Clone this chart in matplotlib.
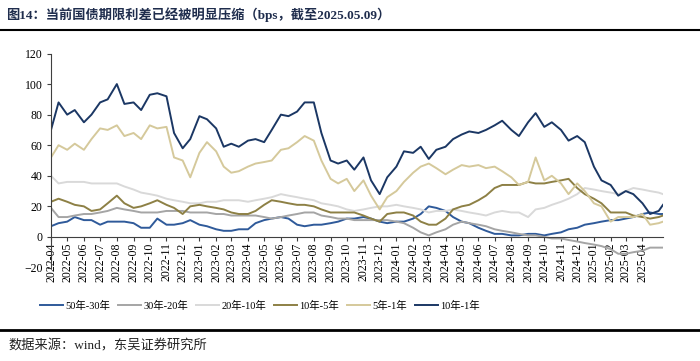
import matplotlib
matplotlib.use("Agg")
import matplotlib.pyplot as plt
import matplotlib.dates as mdates
import pandas as pd

plt.rcParams["font.family"] = ["Liberation Serif", "Noto Sans CJK SC"]

# 半月采样日期（2022-04 至 2025-05-09）
months = pd.date_range("2022-04-01", "2025-05-01", freq="MS")
dates = sorted(list(months) + list(months + pd.Timedelta(days=14)))
dates = [d for d in dates if d <= pd.Timestamp("2025-05-01")] + [pd.Timestamp("2025-05-09")]

# 期限利差（bps），读图估计
s50_30 = [7, 9, 10, 13, 11, 11, 8, 10, 10, 10, 9, 6, 6, 12, 8, 8, 9, 11, 8, 7,
          5, 4, 4, 5, 5, 9, 11, 12, 13, 12, 8, 7, 8, 8, 9, 10, 12, 12, 13, 12,
          10, 9, 10, 10, 12, 15, 20, 19, 17, 13, 10, 9, 6, 4, 2, 2, 1, 1, 2, 2,
          1, 2, 3, 5, 6, 8, 9, 10, 11, 11, 12, 13, 15, 16, 15, 15]
s30_20 = [19, 13, 13, 14, 15, 15, 16, 17, 19, 18, 17, 16, 16, 16, 17, 17, 17, 16, 16, 16,
          15, 15, 14, 14, 14, 14, 13, 12, 13, 14, 15, 16, 16, 14, 13, 12, 12, 11, 11, 11,
          11, 11, 10, 9, 6, 3, 1, 3, 5, 8, 10, 9, 8, 7, 5, 4, 3, 2, 1, 1,
          0, -1, -1, -2, -3, -4, -5, -6, -8, -11, -11, -10, -9, -7, -7, -7]
s20_10 = [40, 35, 36, 36, 36, 35, 35, 35, 35, 33, 31, 29, 28, 27, 25, 24, 23, 22, 22, 23,
          23, 24, 24, 24, 23, 24, 25, 26, 28, 27, 26, 25, 24, 22, 21, 20, 18, 17, 18, 19,
          20, 20, 21, 20, 19, 18, 16, 17, 17, 18, 17, 16, 15, 14, 16, 17, 16, 16, 13, 18,
          19, 21, 23, 25, 28, 32, 31, 30, 29, 28, 30, 32, 31, 30, 29, 28]
s10_5 = [23, 25, 23, 21, 20, 17, 18, 22, 27, 22, 19, 20, 22, 24, 21, 19, 15, 20, 21, 20,
         19, 18, 16, 15, 15, 17, 21, 24, 23, 22, 21, 21, 20, 18, 16, 16, 16, 16, 14, 12,
         10, 15, 16, 16, 14, 10, 8, 8, 12, 18, 20, 21, 24, 27, 32, 34, 34, 34, 36, 35,
         35, 36, 37, 38, 32, 28, 25, 22, 16, 16, 16, 14, 13, 12, 13, 14]
s5_1 = [52, 60, 57, 61, 57, 64, 71, 70, 73, 66, 68, 64, 73, 71, 72, 52, 50, 39, 55, 62,
        56, 46, 42, 43, 46, 48, 49, 50, 57, 58, 62, 66, 63, 50, 38, 35, 38, 30, 37, 27,
        18, 26, 30, 36, 42, 46, 48, 45, 41, 44, 47, 46, 47, 45, 46, 43, 39, 34, 36, 52,
        37, 40, 35, 28, 35, 30, 22, 20, 10, 13, 13, 13, 15, 8, 9, 10]
s10_1 = [70, 88, 80, 83, 75, 80, 88, 90, 100, 87, 88, 83, 93, 94, 92, 68, 58, 64, 79, 77,
         71, 59, 61, 59, 63, 64, 62, 70, 80, 79, 82, 88, 88, 68, 50, 48, 50, 44, 52, 37,
         28, 39, 46, 56, 55, 59, 51, 57, 59, 64, 67, 69, 68, 70, 73, 76, 70, 66, 75, 81,
         72, 75, 70, 63, 66, 62, 46, 37, 34, 27, 30, 28, 22, 15, 17, 21]

labels = ["50年-30年", "30年-20年", "20年-10年", "10年-5年", "5年-1年", "10年-1年"]
colors = ["#2F5A9A", "#A5A5A5", "#D9D9D9", "#8D8045", "#D5C99B", "#1B3764"]
series = [s50_30, s30_20, s20_10, s10_5, s5_1, s10_1]

fig = plt.figure(figsize=(7.0, 3.61), dpi=100)
ax = fig.add_axes([51 / 700, 1 - 267.5 / 361, 612 / 700, 214 / 361])

for vals, lab, col in zip(series, labels, colors):
    ax.plot(dates, vals, color=col, lw=1.4, label=lab)

ax.set_xlim(pd.Timestamp("2022-04-01"), pd.Timestamp("2025-05-09"))
ax.set_ylim(-20, 120)
ax.set_yticks(range(-20, 121, 20))

ticks = pd.date_range("2022-04-01", "2025-04-01", freq="MS")
ax.set_xticks(ticks)
ax.xaxis.set_major_formatter(mdates.DateFormatter("%Y-%m"))
ax.tick_params(axis="x", rotation=90, labelsize=8.5, length=3, pad=1, color="#404040")
ax.tick_params(axis="y", labelsize=8.5, length=3, pad=3, color="#404040")
for lbl in ax.get_xticklabels():
    lbl.set_va("top")

ax.spines["bottom"].set_position(("data", 0))
ax.spines["top"].set_visible(False)
ax.spines["right"].set_visible(False)
ax.spines["bottom"].set_color("#404040")
ax.spines["left"].set_color("#404040")

fig.legend(loc="center", bbox_to_anchor=(260 / 700, 1 - 306 / 361), ncol=6,
           frameon=False, fontsize=7.5, handlelength=2.2, handletextpad=0.2,
           columnspacing=0.8)

fig.text(6 / 700, 1 - 15 / 361, "图14：当前国债期限利差已经被明显压缩（bps，截至2025.05.09）",
         fontsize=9.5, fontweight="bold", color="#1F2D4D", va="center", ha="left")
fig.add_artist(plt.Line2D([0, 1], [1 - 30 / 361, 1 - 30 / 361], color="black", lw=1.5))
fig.add_artist(plt.Line2D([0, 1], [1 - 330 / 361, 1 - 330 / 361], color="black", lw=2))
fig.text(8 / 700, 1 - 346 / 361, "数据来源：wind，东吴证券研究所",
         fontsize=9.5, color="#222222", va="center", ha="left")

fig.savefig("out.png", dpi=100)
plt.close(fig)
